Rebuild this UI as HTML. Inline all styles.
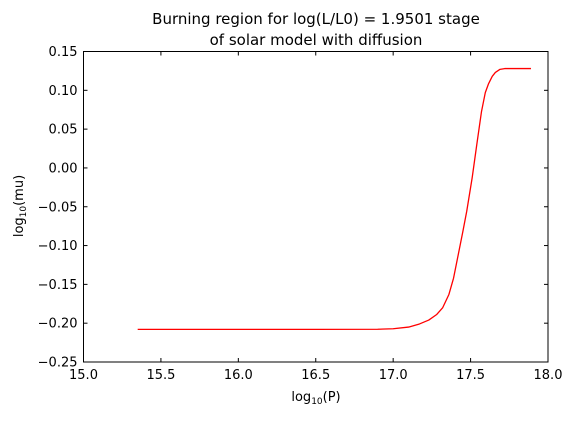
<!DOCTYPE html>
<html><head><meta charset="utf-8"><style>
body{margin:0;background:#fff;}
svg text{font-family:"DejaVu Sans","Liberation Sans",sans-serif;fill:#000;}
</style></head><body>
<svg width="573" height="416">
<rect width="573" height="416" fill="#fff"/>
<text x="316" y="24" font-size="15" text-anchor="middle">Burning region for log(L/L0) = 1.9501 stage</text>
<text x="316" y="45" font-size="15" text-anchor="middle">of solar model with diffusion</text>
<g id="ticks"></g>
<path id="line" fill="none" stroke="#ff0000" stroke-width="1.3" stroke-linejoin="round"/>
<rect x="83.5" y="51.5" width="464.5" height="310.5" fill="none" stroke="#000" stroke-width="1"/>
<text x="316" y="401" font-size="13" text-anchor="middle">log<tspan font-size="9" dy="3">10</tspan><tspan dy="-3">(P)</tspan></text>
<text transform="translate(23,206) rotate(-90)" font-size="13" text-anchor="middle">log<tspan font-size="9" dy="3">10</tspan><tspan dy="-3">(mu)</tspan></text>
</svg>
<script>
const xs=[15.35,16.0,16.5,16.9,17.0,17.1,17.17,17.23,17.28,17.32,17.36,17.39,17.42,17.45,17.475,17.51,17.54,17.57,17.595,17.615,17.64,17.66,17.69,17.72,17.78,17.89];
const ys=[-0.208,-0.208,-0.208,-0.2078,-0.2072,-0.205,-0.201,-0.196,-0.189,-0.180,-0.163,-0.142,-0.112,-0.082,-0.056,-0.013,0.030,0.072,0.097,0.108,0.118,0.123,0.127,0.128,0.128,0.128];
const xTicks=[15.0,15.5,16.0,16.5,17.0,17.5,18.0];
const yTicks=[0.15,0.10,0.05,0.00,-0.05,-0.10,-0.15,-0.20,-0.25];
const L=83.5,R=548,T=51.5,B=362;
const sx=v=>L+(v-15)/3*(R-L);
const sy=v=>T+(0.15-v)/0.4*(B-T);
const ns="http://www.w3.org/2000/svg";
const g=document.getElementById('ticks');
function mk(t,a){const e=document.createElementNS(ns,t);for(const k in a)e.setAttribute(k,a[k]);g.appendChild(e);return e;}
xTicks.forEach(v=>{const x=sx(v);
 mk('line',{x1:x,x2:x,y1:B,y2:B-4,stroke:'#000'});
 mk('line',{x1:x,x2:x,y1:T,y2:T+4,stroke:'#000'});
 const t=mk('text',{x:x,y:B+17,'font-size':13,'text-anchor':'middle'});t.textContent=v.toFixed(1);
 
 
});
yTicks.forEach(v=>{const y=sy(v);
 mk('line',{x1:L,x2:L+4,y1:y,y2:y,stroke:'#000'});
 mk('line',{x1:R,x2:R-4,y1:y,y2:y,stroke:'#000'});
 const t=mk('text',{x:L-6,y:y+4.5,'font-size':13,'text-anchor':'end'});t.textContent=v.toFixed(2).replace('-','\u2212');
 
 
});
const d=xs.map((v,i)=>(i?'L':'M')+sx(v).toFixed(2)+','+sy(ys[i]).toFixed(2)).join(' ');
document.getElementById('line').setAttribute('d',d);
</script>
</body></html>
